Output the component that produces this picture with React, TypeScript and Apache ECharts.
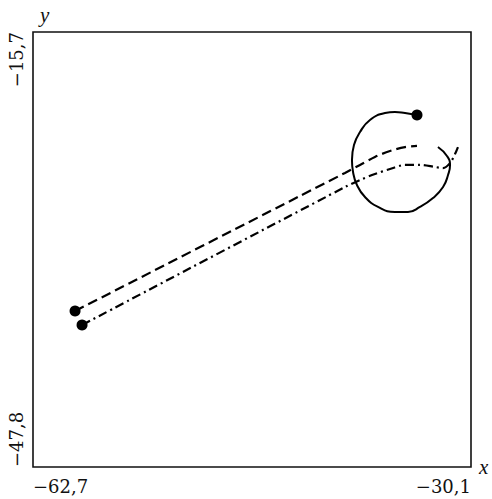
import React, { useEffect, useRef } from "react";
import * as echarts from "echarts";

// Axis extents and tick labels
const xTicks = [-62.7, -30.1];
const yTicks = [-47.8, -15.7];
const xTickLabels = ["−62,7", "−30,1"];
const yTickLabels = ["−47,8", "−15,7"];

// Trajectories (x, y), first point carries the dot
const solidPath = [
  [-34.12, -21.82], [-35.01, -21.68], [-35.76, -21.6], [-36.5, -21.68],
  [-37.62, -22.19], [-38.36, -23.08], [-38.81, -24.04], [-38.96, -25.15],
  [-38.88, -26.03], [-38.59, -26.99], [-37.99, -27.88], [-37.02, -28.61],
  [-35.76, -28.98], [-34.79, -28.98], [-33.9, -28.61], [-32.93, -27.95],
  [-32.18, -27.14], [-31.81, -26.25], [-31.66, -25.51], [-31.89, -24.85],
  [-32.56, -24.19],
];
const dashedPath = [
  [-59.57, -36.29], [-42.83, -27.8], [-39.48, -26.1], [-38.36, -25.51],
  [-37.25, -24.92], [-36.13, -24.48], [-35.01, -24.19], [-34.12, -24.11],
];
const dashDotPath = [
  [-59.05, -37.32], [-39.48, -27.14], [-38.36, -26.62], [-37.25, -26.18],
  [-36.13, -25.81], [-35.01, -25.51], [-33.9, -25.51], [-32.78, -25.66],
  [-32.18, -25.74], [-31.66, -25.37], [-31.29, -24.7], [-31.07, -24.19],
];

const labelFont = "DejaVu Serif";

export default function App() {
  const ref = useRef<HTMLDivElement>(null);
  useEffect(() => {
    if (!ref.current) return;
    const chart = echarts.init(ref.current, null, { renderer: "svg" });
    const fmt = (ticks: number[], labels: string[]) => (v: number) => {
      const i = ticks.findIndex((t) => Math.abs(t - v) < 1e-6);
      return i >= 0 ? labels[i] : "";
    };
    chart.setOption({
      animation: false,
      backgroundColor: "#fff",
      grid: {
        left: 33,
        top: 32,
        width: 438,
        height: 435,
        show: true,
        borderColor: "#111",
        borderWidth: 1.6,
        backgroundColor: "transparent",
      },
      xAxis: {
        type: "value",
        min: xTicks[0],
        max: xTicks[1],
        name: "x",
        nameLocation: "end",
        nameGap: 8,
        nameTextStyle: {
          fontFamily: "Liberation Serif",
          fontStyle: "italic",
          fontSize: 21,
          color: "#111",
          verticalAlign: "middle",
        },
        axisLine: { show: false },
        axisTick: { show: false },
        splitLine: { show: false },
        axisLabel: {
          customValues: xTicks,
          formatter: fmt(xTicks, xTickLabels),
          fontFamily: labelFont,
          fontSize: 18,
          color: "#111",
          margin: 10,
          alignMinLabel: "left",
          alignMaxLabel: "right",
          showMinLabel: true,
          showMaxLabel: true,
        },
      },
      yAxis: {
        type: "value",
        min: yTicks[0],
        max: yTicks[1],
        name: "y",
        nameLocation: "end",
        nameGap: 7,
        nameTextStyle: {
          fontFamily: "Liberation Serif",
          fontStyle: "italic",
          fontSize: 21,
          color: "#111",
          align: "left",
          verticalAlign: "bottom",
          padding: [0, 0, 0, 7],
        },
        axisLine: { show: false },
        axisTick: { show: false },
        splitLine: { show: false },
        axisLabel: {
          customValues: yTicks,
          formatter: fmt(yTicks, yTickLabels),
          fontFamily: labelFont,
          fontSize: 18,
          color: "#111",
          rotate: 90,
          margin: 8,
          alignMinLabel: "left",
          alignMaxLabel: "right",
          showMinLabel: true,
          showMaxLabel: true,
        },
      },
      series: [
        {
          type: "line",
          data: solidPath,
          symbol: "none",
          smooth: 0.5,
          lineStyle: { color: "#000", width: 2, type: "solid" },
        },
        {
          type: "line",
          data: dashedPath,
          symbol: "none",
          smooth: 0.3,
          lineStyle: { color: "#000", width: 2.2, type: [10, 5] },
        },
        {
          type: "line",
          data: dashDotPath,
          symbol: "none",
          smooth: 0.3,
          lineStyle: { color: "#000", width: 2.2, type: [9, 4, 2, 4] },
        },
        {
          type: "scatter",
          data: [solidPath[0], dashedPath[0], dashDotPath[0]],
          symbol: "circle",
          symbolSize: 11,
          itemStyle: { color: "#000", opacity: 1 },
          z: 5,
        },
      ],
    });
    return () => chart.dispose();
  }, []);
  return (
    <div
      ref={ref}
      style={{ position: "fixed", left: 0, top: 0, width: 492, height: 499, background: "#fff" }}
    />
  );
}
